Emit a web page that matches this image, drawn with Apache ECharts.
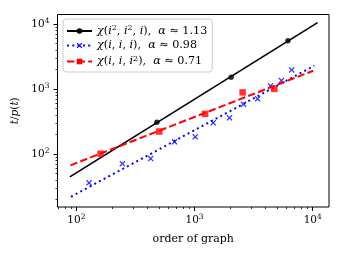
<!DOCTYPE html>
<html>
<head>
<meta charset="utf-8">
<script src="https://cdn.jsdelivr.net/npm/echarts@6/dist/echarts.min.js"></script>
<style>
  html, body { margin: 0; padding: 0; background: #fff; }
  #chart { width: 345px; height: 257px; }
</style>
</head>
<body>
<div id="chart"></div>
<script>
// ---- data ----
const seriesNames = ['χ(i², i², i),  α ≈ 1.13', 'χ(i, i, i),  α ≈ 0.98', 'χ(i, i, i²),  α ≈ 0.71'];

const blackFitX = [88, 11000];
const blackFitY = [44.5, 10500];
const blackPtsX = [480, 2040, 6170];
const blackPtsY = [307, 1517, 5520];

const blueFitX = [90, 10300];
const blueFitY = [22, 2280];
const bluePtsX = [128, 245, 425, 677, 1014, 1439, 1977, 2596, 3421, 4389, 5432, 6641];
const bluePtsY = [36, 71, 85, 154, 184, 302, 360, 581, 705, 1117, 1346, 1963];

const redFitX = [89, 10100];
const redFitY = [67, 1910];
const redPtsX = [160, 503, 1230, 2553, 4730];
const redPtsY = [101, 222, 415, 887, 1004];

const xMajorTicks = [100, 1000, 10000];
const yMajorTicks = [100, 1000, 10000];
const xRange = [69.2, 13740];
const yRange = [15.3, 14000];

// ---- helpers ----
const L = v => Math.log10(v);
function minorTicks(lo, hi) {
  const out = [];
  for (let d = Math.floor(L(lo)); d <= Math.ceil(L(hi)); d++) {
    for (let k = 2; k <= 9; k++) {
      const v = k * Math.pow(10, d);
      if (v >= lo && v <= hi) out.push(L(v));
    }
  }
  return out;
}
function pairs(xs, ys) { return xs.map((x, i) => [L(x), L(ys[i])]); }
function mathRich(s) {
  let out = '';
  for (const ch of s) {
    if (ch === '²') out += '{s|2}';
    else if ('χiαtp'.includes(ch)) out += '{it|' + ch + '}';
    else out += '{n|' + ch + '}';
  }
  return out;
}
const FONT = 'DejaVu Serif';
const FS = 10.5;
const rich = {
  n: { fontFamily: FONT, fontSize: FS, lineHeight: 14, color: '#000' },
  it: { fontFamily: FONT, fontSize: FS, lineHeight: 14, fontStyle: 'italic', color: '#000' },
  s: { fontFamily: FONT, fontSize: 7.5, lineHeight: 8, verticalAlign: 'top', color: '#000' },
  b: { fontFamily: FONT, fontSize: FS, lineHeight: 14, color: '#000' }
};
const LFS = 11.2;
const legendRich = {
  n: { fontFamily: FONT, fontSize: LFS, lineHeight: 14, color: '#000' },
  it: { fontFamily: FONT, fontSize: LFS, lineHeight: 14, fontStyle: 'italic', color: '#000' },
  s: { fontFamily: FONT, fontSize: 8, lineHeight: 8, verticalAlign: 'top', color: '#000' }
};
const powLabel = v => '{b|10}{s|' + Math.round(v) + '}';
const xSym = 'path://M0,1.5L1.5,0L5,3.5L8.5,0L10,1.5L6.5,5L10,8.5L8.5,10L5,6.5L1.5,10L0,8.5L3.5,5Z';

const chart = echarts.init(document.getElementById('chart'), null, { renderer: 'canvas' });

function baseAxis(range) {
  return { type: 'value', min: L(range[0]), max: L(range[1]), splitLine: { show: false }, axisLine: { show: false } };
}

const option = {
  animation: false,
  backgroundColor: '#fff',
  grid: { left: 57.5, right: 16, top: 14.5, bottom: 50, show: true, borderColor: '#000', borderWidth: 1, backgroundColor: 'transparent' },
  xAxis: [
    Object.assign(baseAxis(xRange), {
      position: 'bottom',
      axisTick: { customValues: xMajorTicks.map(L), length: 4, lineStyle: { color: '#000', width: 1 } },
      axisLabel: { customValues: xMajorTicks.map(L), formatter: powLabel, rich: rich, margin: 6 },
      name: 'order of graph', nameLocation: 'middle', nameGap: 27,
      nameTextStyle: { fontFamily: FONT, fontSize: 11, color: '#000' }
    }),
    Object.assign(baseAxis(xRange), {
      position: 'bottom',
      axisTick: { customValues: minorTicks(xRange[0], xRange[1]), length: 2, lineStyle: { color: '#000', width: 0.8 } },
      axisLabel: { show: false }
    })
  ],
  yAxis: [
    Object.assign(baseAxis(yRange), {
      position: 'left',
      axisTick: { customValues: yMajorTicks.map(L), length: 4, lineStyle: { color: '#000', width: 1 } },
      axisLabel: { customValues: yMajorTicks.map(L), formatter: powLabel, rich: rich, margin: 8 },
      name: mathRich('t/p(t)'), nameLocation: 'middle', nameGap: 35, nameRotate: 90,
      nameTextStyle: { fontFamily: FONT, fontSize: 11, color: '#000', rich: rich }
    }),
    Object.assign(baseAxis(yRange), {
      position: 'left',
      axisTick: { customValues: minorTicks(yRange[0], yRange[1]), length: 2, lineStyle: { color: '#000', width: 0.8 } },
      axisLabel: { show: false }
    })
  ],
  legend: {
    left: 63, top: 19, orient: 'vertical',
    itemWidth: 25, itemHeight: 7, itemGap: 3.5,
    padding: [5, 5, 5, 3],
    borderColor: '#cccccc', borderWidth: 1, borderRadius: 3,
    backgroundColor: 'rgba(255,255,255,0.8)',
    data: seriesNames,
    formatter: name => mathRich(name),
    textStyle: { fontFamily: FONT, fontSize: LFS, rich: legendRich }
  },
  series: [
    { name: seriesNames[0], type: 'line', data: pairs(blackFitX, blackFitY), showSymbol: false, symbol: 'circle', symbolSize: 5,
      lineStyle: { color: '#000', width: 1.7 }, itemStyle: { color: '#000' }, silent: true, z: 2 },
    { name: seriesNames[0], type: 'scatter', data: pairs(blackPtsX, blackPtsY), symbol: 'circle', symbolSize: 5.5,
      itemStyle: { color: '#000' }, silent: true, z: 2 },
    { name: seriesNames[1], type: 'line', data: pairs(blueFitX, blueFitY), showSymbol: false, symbol: xSym, symbolSize: 6,
      lineStyle: { color: '#0000ff', width: 2, type: [2, 3.3] }, itemStyle: { color: '#0000ff' }, silent: true, z: 3 },
    { name: seriesNames[1], type: 'scatter', data: pairs(bluePtsX, bluePtsY), symbol: xSym, symbolSize: 6,
      itemStyle: { color: '#0000ff' }, silent: true, z: 3 },
    { name: seriesNames[2], type: 'line', data: pairs(redFitX, redFitY), showSymbol: false, symbol: 'rect', symbolSize: 6,
      lineStyle: { color: '#ff0000', width: 2, type: [7.4, 3.2] }, itemStyle: { color: '#ff0000' }, silent: true, z: 4 },
    { name: seriesNames[2], type: 'scatter', data: pairs(redPtsX, redPtsY), symbol: 'rect', symbolSize: 6.5,
      itemStyle: { color: '#ff0000' }, silent: true, z: 4 }
  ]
};
chart.setOption(option);
</script>
</body>
</html>
